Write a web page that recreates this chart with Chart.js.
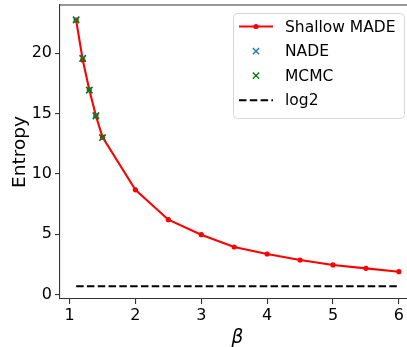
<!DOCTYPE html>
<html>
<head>
<meta charset="utf-8">
<script src="https://cdn.jsdelivr.net/npm/chart.js@4/dist/chart.umd.min.js"></script>
<style>
    html, body { margin: 0; padding: 0; background: #fff; }
    #clip { width: 407px; height: 347px; overflow: hidden; }
    #wrap { width: 416px; height: 347px; }
    canvas { display: block; }
</style>
</head>
<body>
<div id="clip"><div id="wrap"><canvas id="chart" width="416" height="347"></canvas></div></div>
<script>
// entropy vs inverse temperature
const betaMade = [1.1, 1.2, 1.3, 1.4, 1.5, 2, 2.5, 3, 3.5, 4, 4.5, 5, 5.5, 6];
const entropyMade = [22.75, 19.45, 16.97, 14.82, 13.05, 8.69, 6.21, 4.97, 3.95, 3.37, 2.87, 2.46, 2.18, 1.9];
const betaSampled = [1.1, 1.2, 1.3, 1.4, 1.5];
const entropyNade = [22.8, 19.6, 16.95, 14.85, 13.0];
const entropyMcmc = [22.75, 19.55, 16.95, 14.8, 13.02];
const betaLog2 = [1.1, 6];
const log2Value = Math.log(2);
const xTicks = [1, 2, 3, 4, 5, 6];
const yTicks = [0, 5, 10, 15, 20];

const FONT = 'DejaVu Sans';

const toPoints = (xs, ys) => xs.map((x, i) => ({ x: x, y: ys[i] }));

// top/right spines + legend box drawn by hand, matplotlib style
const framePlugin = {
    id: 'frame',
    afterDraw(chart) {
        const ctx = chart.ctx;
        const a = chart.chartArea;
        ctx.save();
        ctx.strokeStyle = '#333';
        ctx.lineWidth = 1.1;
        ctx.beginPath();
        ctx.moveTo(a.left, a.top);
        ctx.lineTo(a.right, a.top);
        ctx.lineTo(a.right, a.bottom);
        ctx.stroke();

        // legend
        const bx = 233.5, by = 13.5, bw = 171, bh = 105, r = 4;
        ctx.beginPath();
        ctx.roundRect(bx, by, bw, bh, r);
        ctx.fillStyle = 'rgba(255,255,255,0.8)';
        ctx.fill();
        ctx.strokeStyle = '#d6d6d6';
        ctx.lineWidth = 1;
        ctx.stroke();

        const x0 = 239, x1 = 273, xm = 256, tx = 285;
        ctx.font = '15.5px "' + FONT + '"';
        ctx.textBaseline = 'middle';
        chart.data.datasets.forEach((ds, i) => {
            const y = 26.5 + i * 24.6;
            if (ds.showLine !== false) {
                ctx.save();
                ctx.strokeStyle = ds.borderColor;
                ctx.lineWidth = ds.borderWidth;
                ctx.setLineDash(ds.borderDash || []);
                ctx.beginPath();
                ctx.moveTo(x0, y);
                ctx.lineTo(x1, y);
                ctx.stroke();
                ctx.restore();
            }
            if (ds.pointRadius > 0) {
                ctx.fillStyle = ds.pointBackgroundColor;
                ctx.strokeStyle = ds.pointBorderColor;
                ctx.lineWidth = ds.pointBorderWidth || 1;
                Chart.helpers.drawPoint(ctx, {
                    pointStyle: ds.pointStyle,
                    radius: ds.pointRadius,
                    borderWidth: ds.pointBorderWidth,
                    rotation: 0
                }, xm, y);
            }
            ctx.fillStyle = '#000';
            ctx.fillText(ds.label, tx, y + 1);
        });
        ctx.restore();
    }
};

// fixed axis boxes so the plot area lands where matplotlib put it
const fixY = s => { s.width = 60; s.paddingTop = 0; s.paddingBottom = 0; };
const fixX = s => { s.height = 48; s.paddingLeft = 0; s.paddingRight = 0; };

new Chart(document.getElementById('chart'), {
    type: 'line',
    data: {
        datasets: [
            {
                label: 'Shallow MADE', data: toPoints(betaMade, entropyMade), order: 4,
                borderColor: '#ff0000', borderWidth: 2.1,
                pointStyle: 'circle', pointRadius: 2.6, pointBorderWidth: 0,
                pointBackgroundColor: '#ff0000', pointBorderColor: '#ff0000'
            },
            {
                label: 'NADE', data: toPoints(betaSampled, entropyNade), order: 3, showLine: false,
                borderColor: '#1f77b4', borderWidth: 0,
                pointStyle: 'crossRot', pointRadius: 4.4, pointBorderWidth: 1.4,
                pointBackgroundColor: '#1f77b4', pointBorderColor: '#1f77b4'
            },
            {
                label: 'MCMC', data: toPoints(betaSampled, entropyMcmc), order: 2, showLine: false,
                borderColor: '#008000', borderWidth: 0,
                pointStyle: 'crossRot', pointRadius: 4.4, pointBorderWidth: 1.4,
                pointBackgroundColor: '#008000', pointBorderColor: '#008000'
            },
            {
                label: 'log2', data: toPoints(betaLog2, betaLog2.map(() => log2Value)), order: 1,
                borderColor: '#000', borderWidth: 2.1, borderDash: [7.5, 3.3],
                pointRadius: 0
            }
        ]
    },
    options: {
        responsive: false,
        animation: false,
        devicePixelRatio: 1,
        layout: { autoPadding: false, padding: { top: 5, right: 1, left: 0, bottom: 0 } },
        plugins: { legend: { display: false }, tooltip: { enabled: false } },
        elements: { line: { tension: 0 } },
        scales: {
            x: {
                type: 'linear', min: 0.855, max: 6.245,
                afterBuildTicks: s => { s.ticks = xTicks.map(v => ({ value: v })); },
                afterFit: fixX,
                border: { color: '#333', width: 1.1 },
                grid: { drawOnChartArea: false, drawTicks: true, tickLength: 5, color: '#333', lineWidth: 1.1 },
                ticks: { color: '#000', padding: 2, font: { family: FONT, size: 16 }, maxRotation: 0 },
                title: {
                    display: true, text: 'β', color: '#000',
                    font: { family: FONT, size: 18.5, style: 'italic', lineHeight: 1 },
                    padding: { top: 0, bottom: 0 }
                }
            },
            y: {
                type: 'linear', min: -0.36, max: 24.0,
                afterBuildTicks: s => { s.ticks = yTicks.map(v => ({ value: v })); },
                afterFit: fixY,
                border: { color: '#333', width: 1.1 },
                grid: { drawOnChartArea: false, drawTicks: true, tickLength: 5, color: '#333', lineWidth: 1.1 },
                ticks: { color: '#000', padding: 3, font: { family: FONT, size: 16 } },
                title: {
                    display: true, text: 'Entropy', color: '#000',
                    font: { family: FONT, size: 18.5, lineHeight: 1.2 },
                    padding: { top: 9, bottom: 0 }
                }
            }
        }
    },
    plugins: [framePlugin]
});
</script>
</body>
</html>
